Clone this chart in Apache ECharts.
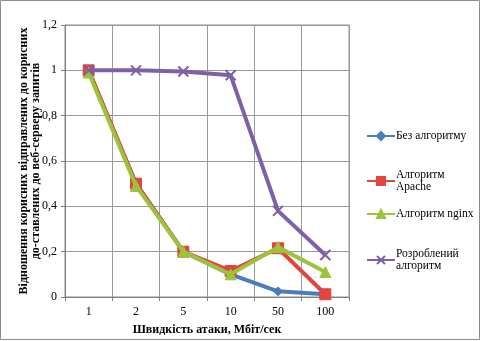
<!DOCTYPE html>
<html><head><meta charset="utf-8">
<script src="https://cdn.jsdelivr.net/npm/echarts@6/dist/echarts.min.js"></script>
<style>html,body{margin:0;padding:0;background:#fff}#c{width:481px;height:341px}</style>
</head><body><div id="c"></div>
<script>
const categories = ['1','2','5','10','50','100'];
const noAlgo = [1, 0.5, 0.2, 0.1, 0.025, 0.012];
const apache = [1, 0.5, 0.2, 0.115, 0.215, 0.012];
const nginx = [0.99, 0.49, 0.2, 0.1, 0.22, 0.11];
const developed = [1, 1, 0.995, 0.978, 0.38, 0.185];
const names = ['Без алгоритму', 'Алгоритм\nApache', 'Алгоритм nginx', 'Розроблений\nалгоритм'];
const colors = ['#4a7ebb', '#e0453f', '#9bc33b', '#7d60a8'];
const symbols = ['diamond', 'rect', 'triangle', 'path://M0,0 L10,10 M10,0 L0,10'];
const sizes = [9, 11, 11, 10];
const datas = [noAlgo, apache, nginx, developed];
const font = '"Liberation Serif", "DejaVu Serif", serif';

const chart = echarts.init(document.getElementById('c'));
const series = datas.map((d, i) => ({
  name: names[i], type: 'line', data: d, z: 2 + i,
  symbol: symbols[i], symbolSize: sizes[i],
  lineStyle: {color: colors[i], width: 4},
  itemStyle: {color: colors[i], borderColor: colors[i], borderWidth: i === 3 ? 2 : 1},
  animation: false
}));
const legendTops = [125, 164, 203, 243];
const legends = names.map((n, i) => ({
  data: [n], left: 361, top: legendTops[i], orient: 'vertical',
  itemWidth: 28, itemHeight: 10, itemGap: 0,
  textStyle: {fontFamily: font, fontSize: 11.5, color: '#000', lineHeight: 12, padding: [0, 0, 0, -4]}
}));
chart.setOption({
  animation: false,
  color: colors,
  graphic: [{type: 'rect', shape: {x: 0.5, y: 0.5, width: 479, height: 339}, style: {fill: 'none', stroke: '#8c8c8c', lineWidth: 1}}],
  grid: {left: 65, top: 25, right: 132, bottom: 40, show: true, borderColor: '#8c8c8c', borderWidth: 1},
  legend: legends,
  xAxis: {
    type: 'category', data: categories, boundaryGap: true,
    name: 'Швидкість атаки, Мбіт/сек', nameLocation: 'middle', nameGap: 27,
    nameTextStyle: {fontFamily: font, fontSize: 12, fontWeight: 'bold', color: '#000'},
    axisLine: {lineStyle: {color: '#808080', width: 1}},
    axisTick: {show: true, length: 4, lineStyle: {color: '#808080'}},
    axisLabel: {fontFamily: font, fontSize: 12, color: '#000', margin: 9},
    splitLine: {show: true, lineStyle: {color: '#9a9a9a', width: 1}}
  },
  yAxis: {
    type: 'value', min: 0, max: 1.2, interval: 0.2,
    name: 'Відношення корисних відправлених до корисних\nдо-ставлених до веб-серверу запитів',
    nameLocation: 'middle', nameGap: 23, nameRotate: 90, nameMoveOverlap: false,
    nameTextStyle: {fontFamily: font, fontSize: 12, fontWeight: 'bold', color: '#000', lineHeight: 12},
    axisLine: {show: true, lineStyle: {color: '#808080'}},
    axisTick: {show: true, length: 4, lineStyle: {color: '#808080'}},
    axisLabel: {fontFamily: font, fontSize: 12, color: '#000', margin: 8,
      formatter: v => (Math.round(v * 10) / 10).toString().replace('.', ',')},
    splitLine: {show: true, lineStyle: {color: '#9a9a9a', width: 1}}
  },
  series: series
});
</script></body></html>
